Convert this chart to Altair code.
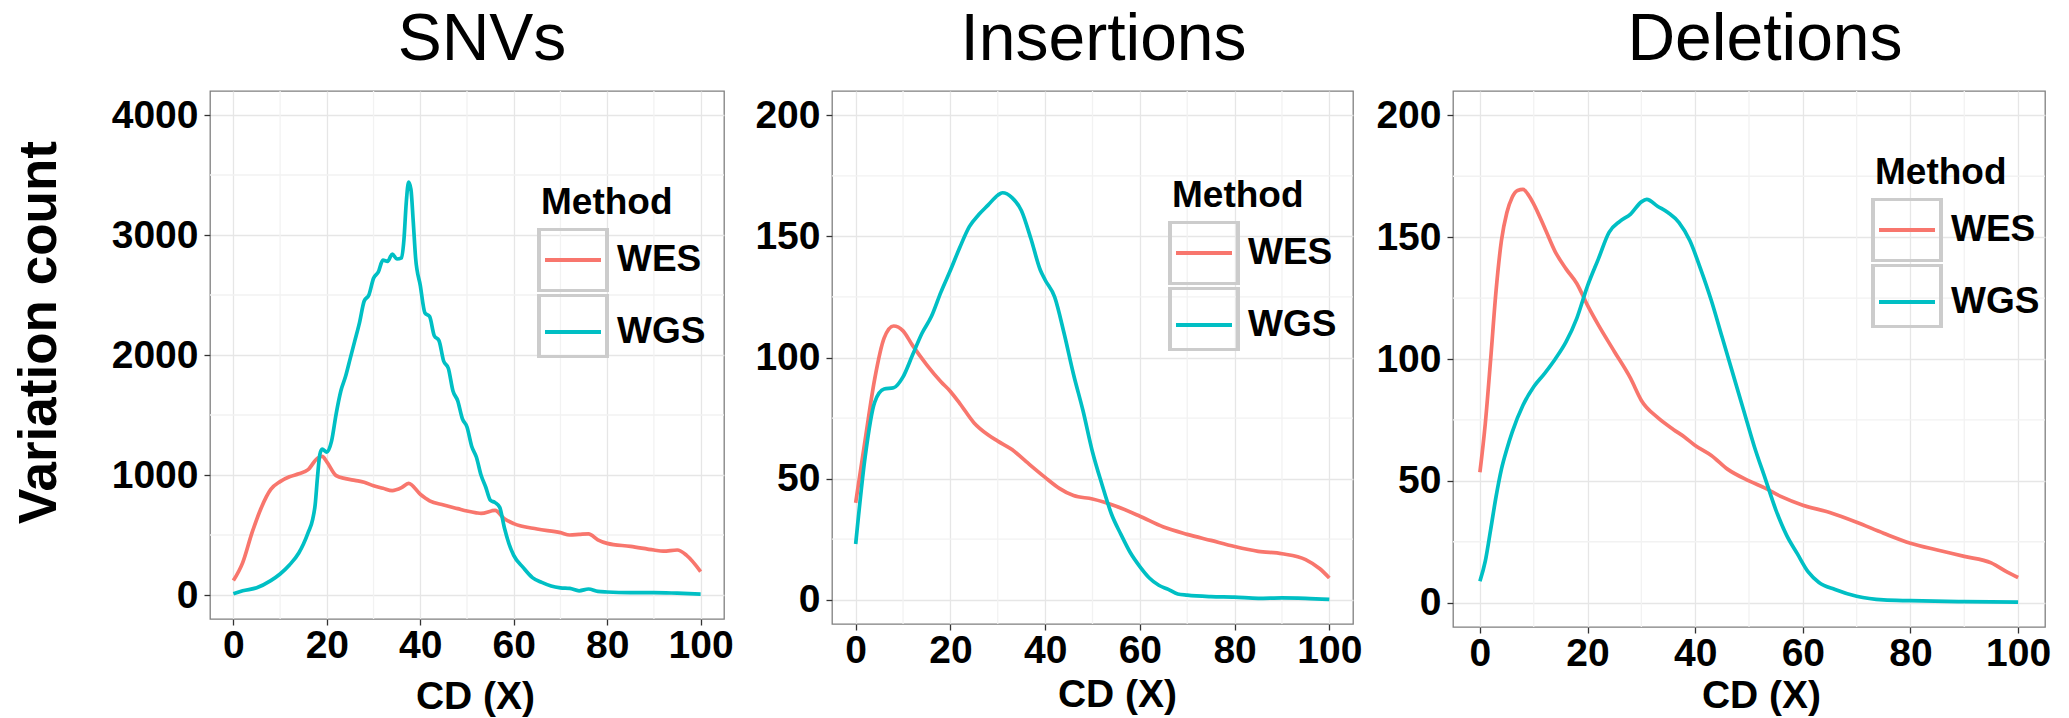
import altair as alt
import pandas as pd

FONT = "Liberation Sans"
methods = ["WES", "WGS"]
key_names = ["WES key", "WGS key"]
colors = ["#F8766D", "#00BFC4"]

# ---------------- data ----------------
snv_wes_x = [0, 2, 4, 6, 8, 10, 12, 14, 16, 18, 19, 20, 22, 24, 26, 28, 30, 32, 34, 36, 37.5,
             40, 42, 45, 48, 50, 52, 53, 56, 58, 60, 65, 70, 72, 74, 76, 78, 80, 85, 90, 92, 95, 97, 100]
snv_wes_y = [120, 270, 520, 730, 880, 945, 985, 1010, 1045, 1140, 1155, 1110, 995, 970, 955, 940, 910,
             890, 870, 895, 930, 840, 785, 750, 720, 700, 685, 680, 705, 635, 595, 550, 520, 500, 505,
             510, 460, 430, 405, 375, 365, 375, 330, 195]

snv_wgs_x = [0, 2, 5, 8, 10, 12, 14, 15, 16, 17, 17.5, 18, 18.5, 19, 20, 21, 22, 23, 24, 25, 26, 27,
             28, 29, 30, 31, 32, 33, 34, 35, 36, 36.5, 37, 37.5, 38, 38.5, 39, 40, 41, 42, 43, 44, 45,
             46, 47, 48, 49, 50, 51, 52, 53, 54, 55, 56, 57, 58, 59, 60, 62, 64, 66, 68, 70, 72, 74,
             76, 78, 80, 85, 90, 95, 100]
snv_wgs_y = [10, 35, 60, 120, 175, 250, 350, 425, 520, 635, 750, 980, 1170, 1215, 1190, 1280, 1510,
             1700, 1820, 1970, 2120, 2270, 2450, 2500, 2640, 2690, 2790, 2780, 2840, 2800, 2810, 2960,
             3270, 3440, 3380, 3110, 2810, 2580, 2350, 2320, 2160, 2120, 1950, 1890, 1700, 1620, 1470,
             1400, 1240, 1150, 1000, 900, 790, 770, 730, 560, 425, 330, 230, 145, 105, 75, 60, 55, 35,
             50, 30, 25, 20, 20, 15, 8]

ins_wes_x = [0, 2, 4, 6, 8, 10, 12, 15, 18, 20, 22, 25, 28, 30, 33, 36, 40, 43, 46, 50, 55, 60, 65,
             70, 75, 80, 85, 90, 95, 98, 100]
ins_wes_y = [40, 66, 91, 108, 113, 111, 105, 97, 90, 86, 81, 73, 68, 65.5, 62, 57, 50.5, 46, 43, 41.6,
             38.6, 34.5, 30, 27, 24.5, 22, 20, 19, 16.6, 12.8, 9]

ins_wgs_x = [0, 2, 4, 6, 8, 10, 12, 14, 16, 18, 20, 22, 24, 26, 28, 30, 31, 33, 35, 37, 39, 40, 42,
             44, 46, 48, 50, 52, 54, 56, 58, 60, 62, 64, 66, 68, 70, 75, 80, 85, 90, 95, 100]
ins_wgs_y = [23, 59, 81.5, 87, 87.5, 92, 101, 110, 117, 127, 136, 145.5, 154, 159, 163, 167, 168, 166,
             160.6, 149, 136, 132, 125, 110, 93, 78, 61, 47.6, 35.4, 27, 19.4, 13.7, 9, 6, 4.3, 2.4,
             1.9, 1.3, 1.1, 0.6, 0.8, 0.6, 0.2]

del_wes_x = [0, 1, 2, 3, 4, 5, 6, 7, 8, 9, 10, 12, 14, 16, 18, 20, 22, 25, 28, 30, 33, 36, 38, 40,
             43, 46, 50, 53, 56, 60, 65, 70, 75, 80, 85, 90, 95, 98, 100]
del_wes_y = [53.5, 73.5, 100, 128, 148.6, 160, 166.4, 169.2, 169.6, 167.4, 163.6, 154, 144, 137, 131,
             122, 114, 103, 92, 83, 76, 71, 68, 64.5, 60.4, 54.8, 50, 47, 43.5, 40, 37, 33, 28.5,
             24.4, 21.6, 19, 16.3, 12.5, 10.3]

del_wgs_x = [0, 1, 2, 3, 4, 5, 6, 8, 10, 12, 14, 16, 18, 20, 22, 24, 26, 28, 30, 31, 33, 35, 37, 39,
             41, 43, 45, 47, 49, 51, 53, 55, 57, 59, 61, 63, 66, 70, 75, 80, 90, 100]
del_wgs_y = [8.8, 17, 30, 43.5, 54.8, 63, 70, 81, 88.6, 94, 100, 107, 116.7, 130, 141, 152, 156.5,
             159.5, 164.5, 165.5, 162.7, 160, 156, 148.6, 137, 124, 109, 94, 79, 64, 51, 38, 27.6,
             20, 12.6, 8.3, 5.4, 2.6, 1.1, 0.8, 0.4, 0.2]

x_ticks = [0, 20, 40, 60, 80, 100]
x_minor = [10, 30, 50, 70, 90]
snv_ticks = [0, 1000, 2000, 3000, 4000]
snv_minor = [500, 1500, 2500, 3500]
indel_ticks = [0, 50, 100, 150, 200]
indel_minor = [25, 75, 125, 175]

titles = ["SNVs", "Insertions", "Deletions"]


def frame(wes_x, wes_y, wgs_x, wgs_y):
    rows = [{"cd": a, "count": b, "Method": "WES"} for a, b in zip(wes_x, wes_y)]
    rows += [{"cd": a, "count": b, "Method": "WGS"} for a, b in zip(wgs_x, wgs_y)]
    df = pd.DataFrame(rows)
    df["Key"] = df["Method"] + " key"
    return df


# legend key: a filled grey frame (no stroke) and a stroked key line; both symbols have the
# same bounding box so the two legends lay out identically
BOX_PATH = ("M-1.2,-1.0667H1.2V1.0667H-1.2Z"
            "M-1.0667,-0.9667V0.9667H1.0667V-0.9667Z")
LINE_PATH = "M-1.0667,-0.9333L-1.0667,-0.9333M1.0667,0.9333L1.0667,0.9333M-0.933,0H0.933"
SYM = 3600


def legend_common(lx, ly):
    return dict(orient="none", legendX=lx, legendY=ly, direction="vertical",
                titleFont=FONT, titleFontSize=37, titleFontWeight="bold", titleColor="black",
                titlePadding=6, labelFont=FONT, labelFontSize=37, labelFontWeight="bold",
                labelColor="black", labelOffset=12, symbolSize=SYM, rowPadding=0, padding=0)


def panel(df, title, ymax, yticks, yminor, width, height, lx, ly, title_dx, xtitle_x,
          xtitle_pad, ytitle=None):
    xs = alt.Scale(domain=[-5, 105], nice=False, zero=False)
    ys = alt.Scale(domain=[-0.05 * ymax, 1.05 * ymax], nice=False, zero=False)
    ykw = dict(values=yticks, grid=True, labelPadding=6, tickSize=6, format="d")
    if ytitle:
        yaxis = alt.Axis(title=ytitle, titleFontSize=53, titlePadding=45, titleY=241, **ykw)
    else:
        yaxis = alt.Axis(title=None, **ykw)
    xaxis = alt.Axis(values=x_ticks, title="CD (X)", titleX=xtitle_x, titlePadding=xtitle_pad,
                     labelPadding=1, tickSize=6, grid=True, labelFlush=False, format="d")
    vminor = alt.Chart(pd.DataFrame({"cd": x_minor})).mark_rule(
        color="#F2F2F2", strokeWidth=1.3).encode(x=alt.X("cd:Q", scale=xs))
    hminor = alt.Chart(pd.DataFrame({"count": yminor})).mark_rule(
        color="#F2F2F2", strokeWidth=1.3).encode(y=alt.Y("count:Q", scale=ys))
    line = alt.Chart(df).mark_line(strokeWidth=3.7, interpolate="monotone").encode(
        x=alt.X("cd:Q", scale=xs, axis=xaxis),
        y=alt.Y("count:Q", scale=ys, axis=yaxis),
        color=alt.Color("Method:N", scale=alt.Scale(domain=methods, range=colors),
                        legend=alt.Legend(title="Method", symbolType=LINE_PATH,
                                          symbolStrokeWidth=4, **legend_common(lx, ly))),
    )
    keys = alt.Chart(df).mark_point(opacity=0, filled=True, color="#CCCCCC").encode(
        x=alt.X("cd:Q", scale=xs),
        y=alt.Y("count:Q", scale=ys),
        shape=alt.Shape("Key:N", scale=alt.Scale(domain=key_names, range=[BOX_PATH, BOX_PATH]),
                        legend=alt.Legend(title=" ", labelExpr="''", symbolFillColor="#CCCCCC",
                                          symbolStrokeColor="transparent", symbolStrokeWidth=0,
                                          symbolOpacity=1, titleOpacity=0, labelOpacity=0,
                                          **legend_common(lx + 2, ly + 2))),
    )
    return alt.layer(vminor, hminor, line, keys).properties(
        width=width, height=height,
        title=alt.TitleParams(title, fontSize=66, fontWeight="normal", font=FONT, color="black",
                              anchor="middle", dx=title_dx, offset=16),
    )


p1 = panel(frame(snv_wes_x, snv_wes_y, snv_wgs_x, snv_wgs_y), titles[0], 4000, snv_ticks,
           snv_minor, 514, 528, 331, 94, 15, 265, 12, ytitle="Variation count")
p2 = panel(frame(ins_wes_x, ins_wes_y, ins_wgs_x, ins_wgs_y), titles[1], 200, indel_ticks,
           indel_minor, 521, 533, 340, 87, 11, 285, 5)
p3 = panel(frame(del_wes_x, del_wes_y, del_wgs_x, del_wgs_y), titles[2], 200, indel_ticks,
           indel_minor, 592, 536, 422, 64, 16, 308, 3)

inner = alt.hconcat(p1, p2, spacing=20).resolve_scale(
    color="independent", shape="independent").resolve_legend(
    color="independent", shape="independent")
chart = alt.hconcat(inner, p3, spacing=12).resolve_scale(
    color="independent", shape="independent").resolve_legend(
    color="independent", shape="independent").properties(
    padding={"left": 12, "top": 6, "right": 0, "bottom": 0}
).configure(font=FONT).configure_view(stroke="#7F7F7F", strokeWidth=1.3).configure_axis(
    domain=False, gridColor="#E6E6E6", gridWidth=1.3, tickColor="#333333", tickWidth=1.3,
    labelFont=FONT, labelFontSize=39, labelFontWeight="bold", labelColor="black",
    titleFont=FONT, titleFontSize=39, titleFontWeight="bold", titleColor="black",
)

chart.save("out.html", embed_options={"renderer": "svg", "actions": False})
